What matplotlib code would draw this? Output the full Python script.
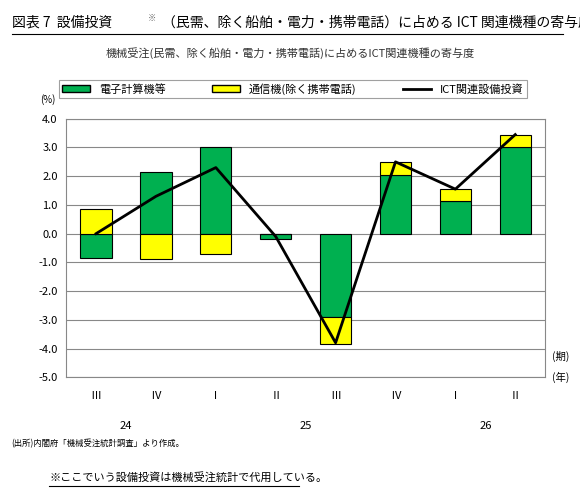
import matplotlib

matplotlib.use("Agg")
import matplotlib.pyplot as plt
import numpy as np
from matplotlib.lines import Line2D
from matplotlib.patches import Patch

plt.rcParams["font.family"] = ["Noto Sans CJK JP", "DejaVu Sans"]

quarters = ["Ⅲ", "Ⅳ", "Ⅰ", "Ⅱ", "Ⅲ", "Ⅳ", "Ⅰ", "Ⅱ"]
years = ["24", "25", "26"]
computers = [-0.85, 2.15, 3.0, -0.2, -2.9, 2.05, 1.15, 3.0]
telecom = [0.85, -0.9, -0.7, 0.0, -0.95, 0.45, 0.4, 0.45]
ict_total = [0.0, 1.3, 2.3, -0.1, -3.8, 2.5, 1.55, 3.45]

GREEN, YELLOW = "#00b050", "#ffff00"

fig = plt.figure(figsize=(5.8, 4.97), dpi=100)
ax = fig.add_axes([0.114, 0.241, 0.826, 0.52])

x = np.arange(len(quarters))
w = 0.52
comp = np.array(computers)
tel = np.array(telecom)
# stack: same-sign parts stack on green, opposite-sign start from zero
tel_base = np.where(np.sign(tel) == np.sign(comp), comp, 0)
ax.bar(x, comp, w, color=GREEN, edgecolor="black", linewidth=0.8, zorder=2)
ax.bar(x, tel, w, bottom=tel_base, color=YELLOW, edgecolor="black", linewidth=0.8, zorder=2)
ax.plot(x, ict_total, color="black", linewidth=2, zorder=3)

ax.set_xlim(-0.5, len(quarters) - 0.5)
ax.set_ylim(-5, 4)
ax.set_yticks(np.arange(-5, 4.1, 1))
ax.set_yticklabels([f"{v:.1f}" for v in np.arange(-5, 4.1, 1)], fontsize=8)
ax.yaxis.grid(True, color="#888888", linewidth=0.8, zorder=0)
ax.set_axisbelow(True)
ax.tick_params(axis="y", length=0, pad=6)
ax.set_xticks(x)
ax.set_xticklabels(quarters, fontsize=8)
ax.tick_params(axis="x", length=0, pad=10)
for s in ax.spines.values():
    s.set_color("#888888")
for i, yr in zip([0.5, 3.5, 6.5], years):
    ax.text(i, -0.2, yr, transform=ax.get_xaxis_transform(), ha="center", fontsize=8)

ax.text(1.015, 0.08, "(期)", transform=ax.transAxes, fontsize=7.5, va="center")
ax.text(1.015, 0.0, "(年)", transform=ax.transAxes, fontsize=7.5, va="center")
fig.text(0.07, 0.8, "(%)", fontsize=7, va="center")

handles = [Patch(facecolor=GREEN, edgecolor="black", label="電子計算機等"),
           Patch(facecolor=YELLOW, edgecolor="black", label="通信機(除く携帯電話)"),
           Line2D([], [], color="black", linewidth=2, label="ICT関連設備投資")]
leg = fig.legend(handles=handles, loc="center", bbox_to_anchor=(0.505, 0.821), ncol=3,
                 fontsize=8, fancybox=False, edgecolor="#888888", handlelength=2.5,
                 handleheight=0.6, columnspacing=4.2, borderpad=0.3, borderaxespad=0)
leg.get_frame().set_linewidth(0.8)

fig.text(0.02, 0.955, "図表 7  設備投資", fontsize=10, va="center")
fig.text(0.255, 0.963, "※", fontsize=6, va="center", color="#666666")
fig.text(0.28, 0.955, "（民需、除く船舶・電力・携帯電話）に占める ICT 関連機種の寄与度",
         fontsize=10, va="center")
fig.add_artist(Line2D([0.02, 0.97], [0.932, 0.932], color="black", linewidth=0.8))
fig.text(0.5, 0.893, "機械受注(民需、除く船舶・電力・携帯電話)に占めるICT関連機種の寄与度",
         fontsize=8, ha="center", va="center", color="#333333")
fig.text(0.02, 0.108, "(出所)内閣府「機械受注統計調査」より作成。", fontsize=6, va="center")
fig.text(0.085, 0.04, "※ここでいう設備投資は機械受注統計で代用している。", fontsize=8, va="center")
fig.add_artist(Line2D([0.085, 0.515], [0.022, 0.022], color="black", linewidth=0.8))

fig.savefig("out.png", dpi=100)
